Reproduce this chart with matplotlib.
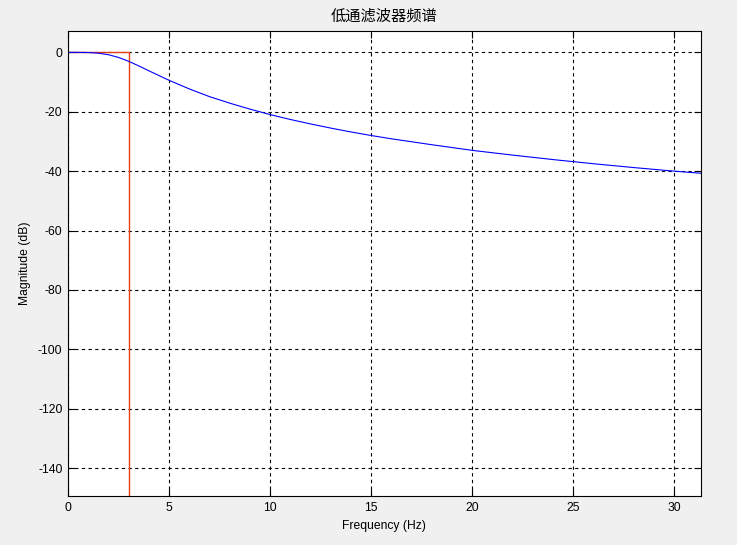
import matplotlib
matplotlib.use("Agg")
import matplotlib.pyplot as plt

# Blue curve (frequency in Hz, magnitude in dB)
freq = [0, 0.5, 1, 1.5, 2, 2.5, 3, 3.5, 4, 5, 6, 7, 8, 9, 10, 11, 12, 13, 14,
        15, 16, 18, 20, 22, 24, 26, 28, 30, 31.3]
mag = [0, 0.0, -0.05, -0.26, -0.78, -1.7, -3.0, -4.55, -6.2, -9.4, -12.3, -14.9,
       -17.1, -19.1, -20.95, -22.6, -24.1, -25.5, -26.8, -28.0, -29.1, -31.1,
       -33.0, -34.6, -36.1, -37.5, -38.8, -40.0, -40.7]

# Red ideal response
ideal_f = [0, 3, 3]
ideal_m = [0, 0, -150]

xticks = [0, 5, 10, 15, 20, 25, 30]
yticks = [0, -20, -40, -60, -80, -100, -120, -140]

plt.rcParams['font.family'] = ['Liberation Sans', 'Noto Sans CJK SC', 'DejaVu Sans']

fig = plt.figure(figsize=(7.37, 5.45), dpi=100, facecolor='#f0f0f0')
ax = fig.add_axes([68/737, 49/545, (700.7-68)/737, (496-31.3)/545])
ax.set_facecolor('white')

ax.plot(ideal_f, ideal_m, color='#e83c14', lw=1.0)
ax.plot(freq, mag, color='#0000ff', lw=0.8)

ax.set_xlim(0, 31.3)
ax.set_ylim(-149.4, 7.1)
ax.set_xticks(xticks)
ax.set_yticks(yticks)
ax.set_xticklabels([str(v) for v in xticks])
ax.set_yticklabels([str(v) for v in yticks])

ax.grid(True, color='black', linestyle=(0, (3, 3)), linewidth=0.8)
ax.tick_params(direction='in', top=True, right=True, length=5, width=0.8,
               labelsize=8.7, pad=4)
for s in ax.spines.values():
    s.set_linewidth(0.8)

ax.set_xlabel('Frequency (Hz)', fontsize=8.7, labelpad=5)
ax.set_ylabel('Magnitude (dB)', fontsize=8.7, labelpad=5)
ax.set_title('低通滤波器频谱', fontsize=11, pad=8,
             family=['Noto Sans CJK SC', 'DejaVu Sans'])

fig.savefig('out.png', dpi=100, facecolor=fig.get_facecolor())
